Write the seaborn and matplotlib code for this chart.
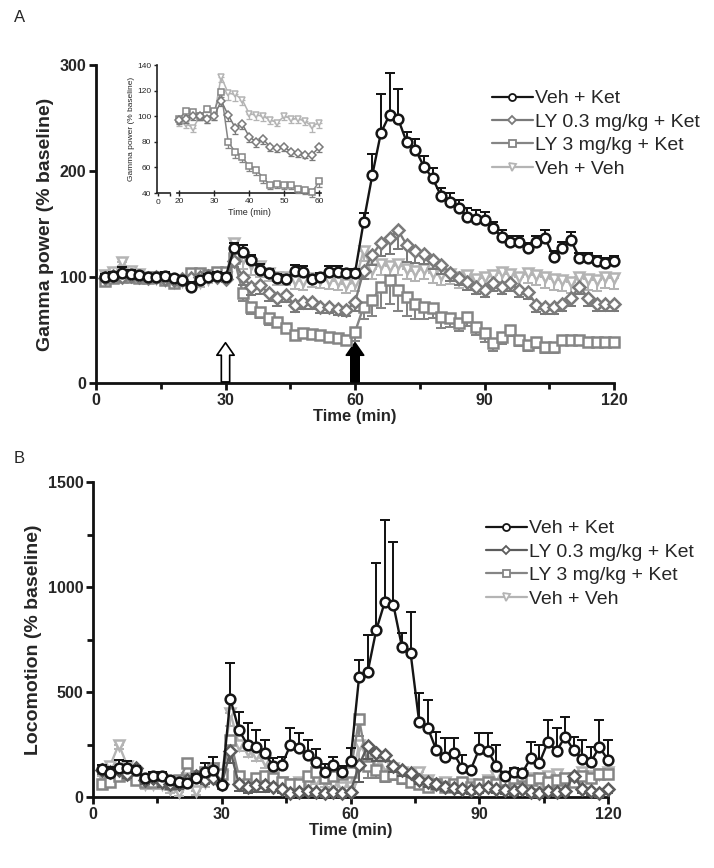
import numpy as np
import pandas as pd
import seaborn as sns
import matplotlib.pyplot as plt

sns.set_theme(style='ticks')
plt.rcParams['font.family'] = ['Liberation Sans', 'DejaVu Sans']

# ---------------- data ----------------
time_min = list(range(2, 121, 2))
series_names = ['Veh + Ket', 'LY 0.3 mg/kg + Ket', 'LY 3 mg/kg + Ket', 'Veh + Veh']

# Panel A: gamma power (% baseline)
gamma_veh_ket = [100, 101, 104, 103, 102, 100, 100, 101, 99, 97, 91, 97, 100, 101, 100,
                 127, 124, 116, 107, 104, 99, 98, 106, 105, 98, 100, 105, 105, 104, 104,
                 152, 196, 236, 253, 249, 227, 220, 204, 193, 176, 171, 165, 157, 155, 154,
                 146, 138, 133, 133, 127, 133, 137, 119, 127, 135, 118, 118, 115, 113, 115]
gamma_ly03 = [99, 101, 100, 101, 100, 99, 100, 98, 97, 98, 99, 100, 101, 100, 98,
              115, 100, 91, 92, 85, 80, 83, 74, 76, 76, 72, 72, 70, 69, 76,
              106, 121, 132, 137, 144, 130, 125, 122, 116, 111, 104, 99, 95, 91, 88,
              94, 91, 94, 88, 86, 74, 72, 72, 75, 80, 91, 80, 75, 75, 75]
gamma_ly3 = [96, 99, 100, 100, 99, 99, 100, 97, 94, 97, 104, 104, 102, 105, 105,
             118, 85, 72, 67, 61, 58, 52, 45, 47, 46, 45, 43, 42, 41, 48,
             72, 78, 91, 97, 88, 81, 75, 72, 71, 62, 61, 57, 62, 53, 47,
             38, 43, 50, 41, 36, 39, 34, 34, 41, 41, 41, 39, 39, 39, 39]
gamma_veh_veh = [102, 105, 114, 106, 103, 100, 99, 97, 95, 96, 92, 95, 98, 100, 100,
                 132, 118, 112, 110, 104, 100, 100, 97, 96, 99, 98, 97, 96, 93, 95,
                 125, 108, 112, 110, 112, 108, 106, 108, 104, 102, 103, 100, 102, 98, 100,
                 102, 105, 103, 100, 104, 102, 100, 98, 97, 95, 100, 98, 97, 100, 99]
gamma_err_veh_ket = [3, 4, 5, 4, 3, 3, 3, 4, 3, 3, 4, 3, 3, 4, 4,
                     5, 6, 5, 5, 4, 4, 4, 5, 5, 4, 4, 5, 5, 4, 4,
                     8, 20, 37, 39, 28, 10, 10, 10, 10, 8, 8, 8, 8, 8, 7,
                     6, 6, 6, 6, 5, 6, 7, 6, 6, 7, 5, 5, 5, 5, 5]
gamma_err_ly03 = [3] * 15 + [6, 8, 8, 8, 8, 7, 7, 7, 6, 6, 6, 6, 6, 6, 8] + \
                 [8, 10, 12, 15, 18, 16, 12, 10, 8, 8, 8, 7, 7, 7, 7] + [7] * 15
gamma_err_ly3 = [3] * 15 + [5, 8, 7, 6, 6, 5, 5, 4, 4, 4, 4, 4, 4, 4, 8] + \
                [12, 15, 20, 22, 20, 18, 15, 12, 10, 10, 8, 8, 8, 8, 8] + \
                [8, 6, 6, 6, 6, 6, 6, 6, 5, 5, 5, 5, 5, 5, 5]
gamma_err_veh_veh = [4] * 15 + [8, 10, 10, 10, 8, 8, 8, 8, 8, 8, 8, 8, 8, 8, 8] + [10] * 30

# Inset (20-60 min)
inset_time = list(range(20, 61, 2))
inset_ly03 = [97, 98, 100, 100, 98, 100, 112, 101, 91, 94, 84, 80, 82, 76, 75, 76, 72, 71, 70, 70, 76]
inset_ly3 = [98, 104, 103, 100, 106, 104, 119, 80, 72, 68, 61, 58, 52, 46, 47, 46, 46, 43, 42, 41, 49]
inset_veh_veh = [95, 94, 91, 100, 98, 100, 131, 118, 117, 113, 102, 101, 100, 97, 95, 100, 98, 98, 96, 92, 95]
inset_err = [3, 3, 3, 3, 3, 3, 4, 5, 5, 4, 4, 4, 4, 3, 3, 3, 3, 3, 3, 4, 4]

# Panel B: locomotion (% baseline)
loco_veh_ket = [133, 114, 138, 140, 130, 90, 100, 100, 80, 70, 67, 90, 120, 130, 57,
                467, 319, 248, 238, 209, 148, 152, 248, 233, 200, 167, 119, 152, 119, 171,
                571, 595, 795, 929, 914, 714, 686, 357, 329, 224, 190, 209, 138, 129, 229,
                219, 148, 100, 120, 114, 186, 162, 262, 219, 286, 224, 181, 167, 238, 176]
loco_err_veh_ket = [20, 30, 40, 30, 20, 15, 20, 20, 15, 15, 10, 20, 40, 60, 10,
                    170, 85, 105, 80, 62, 40, 40, 81, 72, 71, 62, 40, 38, 30, 62,
                    81, 176, 319, 390, 300, 67, 195, 138, 133, 86, 91, 72, 60, 0, 76,
                    86, 100, 20, 20, 20, 76, 86, 105, 110, 95, 62, 90, 71, 129, 95]
loco_ly03 = [130, 120, 130, 110, 140, 80, 90, 70, 60, 60, 80, 100, 80, 90, 60,
             220, 60, 50, 55, 55, 50, 40, 20, 25, 30, 25, 20, 25, 20, 25,
             152, 243, 210, 200, 148, 129, 114, 81, 70, 60, 50, 45, 40, 35, 40,
             50, 40, 35, 30, 40, 25, 20, 30, 25, 30, 100, 40, 30, 20, 40]
loco_ly3 = [60, 70, 100, 110, 80, 70, 70, 80, 60, 80, 160, 100, 120, 140, 110,
            270, 100, 60, 90, 100, 90, 70, 60, 60, 100, 120, 90, 100, 110, 120,
            370, 150, 130, 100, 110, 90, 70, 60, 50, 60, 50, 60, 70, 50, 60,
            70, 60, 80, 90, 100, 80, 90, 70, 80, 90, 70, 100, 90, 110, 110]
loco_veh_veh = [100, 150, 250, 150, 110, 60, 60, 60, 40, 25, 90, 30, 70, 140, 100,
                400, 250, 220, 200, 170, 100, 70, 60, 70, 60, 80, 70, 60, 50, 50,
                250, 200, 170, 150, 140, 120, 100, 120, 80, 60, 70, 50, 60, 60, 50,
                80, 100, 60, 70, 80, 90, 60, 100, 110, 80, 90, 120, 100, 110, 120]
loco_err_other = [20] * 15 + [60, 30, 30, 30, 30, 20, 20, 20, 20, 20, 20, 20, 20, 20, 20] + \
                 [80, 60, 40, 30, 30, 30, 20, 20, 20, 20, 20, 20, 20, 20, 20] + [20] * 15

# ---------------- style ----------------
colors_A = ['#151515', '#7a7a7a', '#858585', '#b4b4b4']
colors_B = ['#151515', '#5c5c5c', '#858585', '#b4b4b4']
markers = ['o', 'D', 's', 'v']
msizes = [7.0, 6.0, 7.0, 7.0]


def draw(ax, t, y, err, color, marker, ms, label, up, z, lw=1.7, cap=3.8, mew=1.8):
    df = pd.DataFrame({'t': t, 'v': y})
    sns.lineplot(data=df, x='t', y='v', ax=ax, color=color, lw=lw, marker=marker,
                 markersize=ms, markerfacecolor='white', markeredgecolor=color,
                 markeredgewidth=mew, label=label, zorder=z, clip_on=False,
                 legend=False)
    zeros = np.zeros(len(err))
    yerr = [zeros, np.array(err)] if up else [np.array(err), zeros]
    ax.errorbar(t, y, yerr=yerr, fmt='none', ecolor=color, elinewidth=lw * 0.85,
                capsize=cap, capthick=lw * 0.85, zorder=z - 0.5, clip_on=False)


def style_axis(ax):
    sns.despine(ax=ax)
    for s in ['left', 'bottom']:
        ax.spines[s].set_linewidth(2.0)
        ax.spines[s].set_color('#111111')
    ax.tick_params(axis='both', which='major', length=5, width=2, color='#111111',
                   labelsize=11.5, pad=2)
    ax.tick_params(axis='both', which='minor', length=4, width=2, color='#111111')
    for lab in ax.get_xticklabels() + ax.get_yticklabels():
        lab.set_fontweight('bold')
    ax.set_facecolor('white')


fig = plt.figure(figsize=(7.14, 8.68), dpi=100)
fig.patch.set_facecolor('white')
W, H = 714, 868

# ---------------- panel A ----------------
axA = fig.add_axes([96 / W, (H - 383) / H, 518 / W, 318 / H])
gamma = [gamma_veh_ket, gamma_ly03, gamma_ly3, gamma_veh_veh]
gerr = [gamma_err_veh_ket, gamma_err_ly03, gamma_err_ly3, gamma_err_veh_veh]
ups = [True, False, False, False]
zs = [10, 8, 7, 6]
for i in [3, 2, 1, 0]:
    draw(axA, time_min, gamma[i], gerr[i], colors_A[i], markers[i], msizes[i],
         series_names[i], ups[i], zs[i])
axA.set_xlim(0, 120)
axA.set_ylim(0, 300)
axA.set_xticks([0, 30, 60, 90, 120])
axA.set_xticks([15, 45, 75, 105], minor=True)
axA.set_yticks([0, 100, 200, 300])
axA.set_xlabel('Time (min)', fontsize=12, fontweight='bold', labelpad=1)
axA.set_ylabel('Gamma power (% baseline)', fontsize=14, fontweight='bold', labelpad=4)
style_axis(axA)

arrow_kw = dict(arrowstyle='simple,head_length=0.9,head_width=1.25,tail_width=0.6',
                mutation_scale=10, lw=1.2, ec='black', shrinkA=0, shrinkB=0)
axA.annotate('', xy=(30, 38), xytext=(30, 1), arrowprops=dict(fc='white', **arrow_kw))
axA.annotate('', xy=(60, 38), xytext=(60, 1), arrowprops=dict(fc='black', **arrow_kw))

hA, lA = [], []
for i in range(4):
    h = plt.Line2D([], [], color=colors_A[i], lw=1.6, marker=markers[i],
                   markersize=msizes[i] * 0.72, markerfacecolor='white',
                   markeredgecolor=colors_A[i], markeredgewidth=1.3)
    hA.append(h)
    lA.append(series_names[i])
fig.legend(hA, lA, loc='upper left', bbox_to_anchor=(482 / W, 1 - 80 / H),
           frameon=False, fontsize=14, handlelength=2.1, handletextpad=0.15,
           labelspacing=0.3, borderpad=0)

# ---------------- inset ----------------
in_bottom = (H - 193) / H
in_h = 128 / H
ax_stub = fig.add_axes([157 / W, in_bottom, 13 / W, in_h])
ax_in = fig.add_axes([177 / W, in_bottom, 144 / W, in_h])
for ax in (ax_stub, ax_in):
    ax.set_facecolor('none')
ax_stub.set_xlim(-0.3, 3.4)
ax_stub.set_ylim(40, 140)
ax_stub.set_xticks([0, 3.4])
ax_stub.set_xticklabels(['0', ''])
ax_stub.set_yticks([40, 60, 80, 100, 120, 140])
ax_stub.set_ylabel('Gamma power (% baseline)', fontsize=6, labelpad=1.5)
sns.despine(ax=ax_stub)
ax_in.set_xlim(19.4, 60.5)
ax_in.set_ylim(40, 140)
ax_in.set_xticks([20, 30, 40, 50, 60])
ax_in.set_yticks([])
sns.despine(ax=ax_in, left=True)
for ax in (ax_stub, ax_in):
    for s in ['left', 'bottom']:
        ax.spines[s].set_linewidth(1.2)
        ax.spines[s].set_color('#222222')
    ax.tick_params(length=2.5, width=1, labelsize=6, pad=1.5, color='#222222')
ax_in.tick_params(axis='x', direction='inout', length=4)
ax_in.set_xlabel('Time (min)', fontsize=6.5, labelpad=2)
inset_sets = [(inset_veh_veh, colors_A[3], 'v', 5.0), (inset_ly3, colors_A[2], 's', 5.0),
              (inset_ly03, colors_A[1], 'D', 4.3)]
for k, (vals, col, mk, ms) in enumerate(inset_sets):
    draw(ax_in, inset_time, vals, inset_err, col, mk, ms, None, False, 5 + k,
         lw=1.1, cap=2.5, mew=1.1)

# ---------------- panel B ----------------
axB = fig.add_axes([93 / W, (H - 797) / H, 515 / W, 315 / H])
loco = [loco_veh_ket, loco_ly03, loco_ly3, loco_veh_veh]
lerr = [loco_err_veh_ket, loco_err_other, loco_err_other, loco_err_other]
for i in [3, 2, 1, 0]:
    draw(axB, time_min, loco[i], lerr[i], colors_B[i], markers[i], msizes[i],
         series_names[i], ups[i], zs[i])
axB.set_xlim(0, 120)
axB.set_ylim(0, 1500)
axB.set_xticks([0, 30, 60, 90, 120])
axB.set_xticks([15, 45, 75, 105], minor=True)
axB.set_yticks([0, 500, 1000, 1500])
axB.set_yticks([250, 750, 1250], minor=True)
axB.set_xlabel('Time (min)', fontsize=12, fontweight='bold', labelpad=1)
axB.set_ylabel('Locomotion (% baseline)', fontsize=14, fontweight='bold', labelpad=4)
style_axis(axB)

hB = []
for i in range(4):
    hB.append(plt.Line2D([], [], color=colors_B[i], lw=1.6, marker=markers[i],
                         markersize=msizes[i] * 0.72, markerfacecolor='white',
                         markeredgecolor=colors_B[i], markeredgewidth=1.3))
fig.legend(hB, series_names, loc='upper left', bbox_to_anchor=(476 / W, 1 - 510 / H),
           frameon=False, fontsize=14, handlelength=2.1, handletextpad=0.15,
           labelspacing=0.3, borderpad=0)

fig.text(14 / W, 1 - 22 / H, 'A', fontsize=12)
fig.text(14 / W, 1 - 463 / H, 'B', fontsize=12)

fig.savefig('out.png', dpi=100, facecolor='white')
